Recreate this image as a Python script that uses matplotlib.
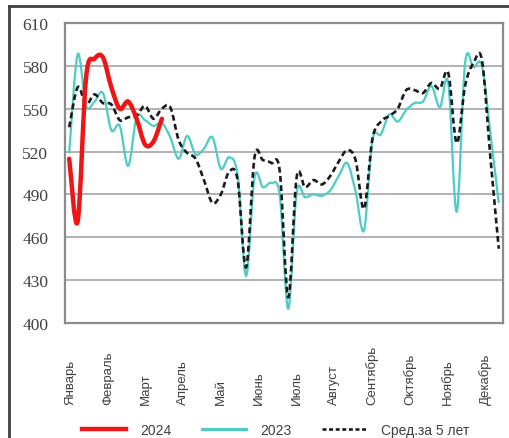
import matplotlib
matplotlib.use("Agg")
import matplotlib.pyplot as plt
import numpy as np
from matplotlib.lines import Line2D
from matplotlib.patches import PathPatch
from matplotlib.path import Path

# weekly values
weeks = list(range(1, 53))
months = ["Январь", "Февраль", "Март", "Апрель", "Май", "Июнь",
          "Июль", "Август", "Сентябрь", "Октябрь", "Ноябрь", "Декабрь"]

y2024 = [515, 471, 572, 585, 586, 565, 550, 555, 543, 525, 527, 543]

y2023 = [519, 588, 552, 555, 561, 535, 538, 510, 544, 542,
         538, 540, 530, 515, 531, 518, 522, 530, 508, 516,
         503, 433, 502, 495, 498, 489, 410, 491, 488, 490,
         489, 493, 503, 512, 492, 465, 528, 532, 546, 541,
         549, 554, 555, 566, 551, 568, 478, 582, 579, 580,
         533, 484]

avg5 = [537, 565, 553, 560, 554, 553, 542, 544, 545, 552,
        543, 550, 551, 528, 519, 515, 500, 484, 490, 506,
        500, 439, 516, 514, 512, 506, 418, 502, 495, 500,
        497, 503, 513, 521, 514, 480, 529, 541, 545, 550,
        563, 563, 561, 568, 564, 575, 526, 566, 582, 584,
        516, 452]

yticks = [400, 430, 460, 490, 520, 550, 580, 610]


def smooth_path(x, y):
    # excel-like smoothed line: catmull-rom turned into bezier segments
    pts = np.column_stack([x, y]).astype(float)
    n = len(pts)
    verts = [pts[0]]
    codes = [Path.MOVETO]
    for i in range(n - 1):
        p0 = pts[i - 1] if i > 0 else pts[i]
        p1 = pts[i]
        p2 = pts[i + 1]
        p3 = pts[i + 2] if i + 2 < n else pts[i + 1]
        verts += [p1 + (p2 - p0) / 6, p2 - (p3 - p1) / 6, p2]
        codes += [Path.CURVE4] * 3
    return Path(verts, codes)


W, H = 510, 439
fig = plt.figure(figsize=(W / 100, H / 100), dpi=100)
ax = fig.add_axes([65 / W, 1 - 324 / H, 438 / W, 300 / H])

ax.set_xlim(0.5, 52.5)
ax.set_ylim(400, 610)
ax.set_yticks(yticks)
ax.set_yticklabels([str(v) for v in yticks], family="Liberation Serif",
                   fontsize=12.5, color="#404040")
ax.tick_params(axis="y", length=0, pad=12)
ax.set_xticks([])
ax.grid(axis="y", color="#a6a6a6", lw=1.2)
ax.set_axisbelow(True)
for s in ax.spines.values():
    s.set_color("#8c8c8c")
    s.set_linewidth(1.6)

red = "#f01414"
cyan = "#4cccc6"

ax.add_patch(PathPatch(smooth_path(weeks, avg5), fill=False, edgecolor="#1a1a1a",
                       lw=1.9, linestyle=(0, (2.2, 1.3)), zorder=3))
ax.add_patch(PathPatch(smooth_path(weeks, y2023), fill=False, edgecolor=cyan,
                       lw=1.6, zorder=2))
ax.add_patch(PathPatch(smooth_path(weeks[:len(y2024)], y2024), fill=False,
                       edgecolor=red, lw=3.2, zorder=4, capstyle="round"))

# month labels, bottom-aligned like in excel
month_pos = np.linspace(1.1, 50.4, len(months))
for xp, m in zip(month_pos, months):
    ax.text(xp, -0.27, m, transform=ax.get_xaxis_transform(), rotation=90,
            ha="center", va="bottom", fontsize=9.5, color="#404040",
            family="Liberation Sans")

handles = [
    Line2D([], [], color=red, lw=3.2),
    Line2D([], [], color=cyan, lw=2.2),
    Line2D([], [], color="#1a1a1a", lw=1.9, linestyle=(0, (1.5, 1))),
]
fig.legend(handles, ["2024", "2023", "Сред.за 5 лет"], loc="center",
           bbox_to_anchor=(0.54, 1 - 431 / H), ncol=3, frameon=False,
           handlelength=3.2, columnspacing=2.2, handletextpad=1.0,
           prop={"family": "Liberation Sans", "size": 10}, labelcolor="#404040")

# outer frame (only left and top visible)
fig.add_artist(Line2D([9 / W, 9 / W], [0, 1 - 7 / H], color="#404040", lw=2))
fig.add_artist(Line2D([9 / W, 1], [1 - 7 / H, 1 - 7 / H], color="#404040", lw=2))

fig.savefig("out.png", dpi=100)
